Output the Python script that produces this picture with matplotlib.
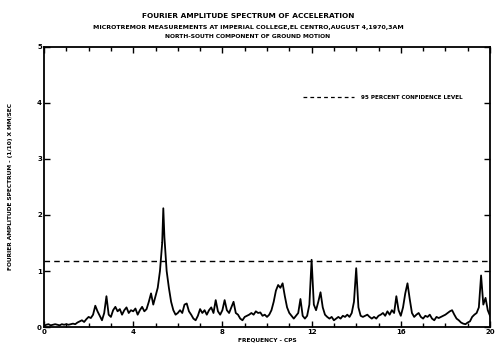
import numpy as np
import matplotlib
matplotlib.use("Agg")
import matplotlib.pyplot as plt
from matplotlib.ticker import MultipleLocator

# Fourier amplitude values (0.1 cps grid, extra points at the main peak)
freq_main = [5.30, 5.35, 5.40]
amp_main = [1.50, 2.12, 1.60]

amp_grid = [
    0.02, 0.04, 0.05, 0.03, 0.04, 0.05, 0.04, 0.03, 0.05, 0.04, 0.05,   # 0.0-1.0
    0.04, 0.05, 0.06, 0.05, 0.08, 0.10, 0.12, 0.09, 0.14, 0.18,         # 1.1-2.0
    0.16, 0.22, 0.38, 0.28, 0.20, 0.12, 0.25, 0.55, 0.22, 0.18,         # 2.1-3.0
    0.30, 0.36, 0.28, 0.32, 0.22, 0.30, 0.35, 0.25, 0.30, 0.28,         # 3.1-4.0
    0.33, 0.22, 0.30, 0.36, 0.28, 0.32, 0.45, 0.60, 0.40, 0.55,         # 4.1-5.0
    0.70, 1.00, 1.50, 1.60, 1.00, 0.70, 0.45, 0.30, 0.22, 0.25,         # 5.1-6.0
    0.30, 0.25, 0.40, 0.42, 0.28, 0.22, 0.15, 0.12, 0.20, 0.32,         # 6.1-7.0
    0.25, 0.30, 0.22, 0.30, 0.35, 0.25, 0.48, 0.28, 0.22, 0.30,         # 7.1-8.0
    0.48, 0.30, 0.25, 0.35, 0.45, 0.25, 0.22, 0.15, 0.12, 0.18,         # 8.1-9.0
    0.20, 0.22, 0.25, 0.22, 0.28, 0.25, 0.26, 0.20, 0.22, 0.18,         # 9.1-10.0
    0.22, 0.30, 0.45, 0.65, 0.75, 0.70, 0.78, 0.55, 0.35, 0.25,         # 10.1-11.0
    0.20, 0.15, 0.20, 0.25, 0.50, 0.20, 0.15, 0.20, 0.40, 1.20,         # 11.1-12.0
    0.40, 0.30, 0.45, 0.62, 0.35, 0.22, 0.18, 0.15, 0.18, 0.12,         # 12.1-13.0
    0.15, 0.18, 0.15, 0.20, 0.18, 0.22, 0.18, 0.25, 0.45, 1.05,         # 13.1-14.0
    0.35, 0.20, 0.18, 0.20, 0.22, 0.18, 0.15, 0.18, 0.15, 0.20,         # 14.1-15.0
    0.22, 0.25, 0.20, 0.28, 0.22, 0.30, 0.25, 0.55, 0.30, 0.20,         # 15.1-16.0
    0.35, 0.60, 0.78, 0.50, 0.25, 0.18, 0.22, 0.25, 0.18, 0.15,         # 16.1-17.0
    0.20, 0.18, 0.22, 0.15, 0.12, 0.18, 0.16, 0.18, 0.20, 0.22,         # 17.1-18.0
    0.25, 0.28, 0.30, 0.22, 0.15, 0.12, 0.08, 0.06, 0.05, 0.08,         # 18.1-19.0
    0.10, 0.18, 0.22, 0.25, 0.35, 0.92, 0.40, 0.52, 0.30, 0.20,         # 19.1-20.0
]
confidence_level = 1.17
x_ticks = [0, 4, 8, 12, 16, 20]
y_ticks = [0, 1, 2, 3, 4, 5]

title1 = "FOURIER AMPLITUDE SPECTRUM OF ACCELERATION"
title2 = "MICROTREMOR MEASUREMENTS AT IMPERIAL COLLEGE,EL CENTRO,AUGUST 4,1970,3AM"
title3 = "NORTH-SOUTH COMPONENT OF GROUND MOTION"
xlabel = "FREQUENCY - CPS"
ylabel = "FOURIER AMPLITUDE SPECTRUM - (1/10) X MM/SEC"
legend_label = "95 PERCENT CONFIDENCE LEVEL"

freq_grid = np.linspace(0, 20, len(amp_grid))
freq = np.concatenate([freq_grid, freq_main])
amp = np.concatenate([amp_grid, amp_main])
order = np.argsort(freq, kind="stable")
freq = freq[order]
amp = amp[order]

plt.rcParams['font.family'] = ['DejaVu Sans']
plt.rcParams['font.weight'] = 'bold'

fig = plt.figure(figsize=(4.96, 3.45), dpi=100)
ax = fig.add_axes([44/496, 1-327/345, (490-44)/496, (327-47)/345])

ax.plot(freq, amp, color="black", lw=1.3)
ax.axhline(confidence_level, color="black", lw=1.0, ls=(0, (4, 3)))
ax.plot([11.6, 13.9], [4.1, 4.1], color="black", lw=0.9, ls=(0, (3, 2.5)))
ax.text(14.2, 4.1, legend_label, fontsize=4.1, fontweight="bold", va="center", ha="left")

ax.set_xlim(0, 20)
ax.set_ylim(0, 5)
ax.set_xticks(x_ticks)
ax.set_yticks(y_ticks)
ax.xaxis.set_minor_locator(MultipleLocator(1))
ax.tick_params(which="both", direction="in", top=True, right=True, width=1.0)
ax.tick_params(which="major", length=4, labelsize=5, pad=1.5)
ax.tick_params(which="minor", length=3)
for lab in ax.get_xticklabels() + ax.get_yticklabels():
    lab.set_fontweight("bold")
for sp in ax.spines.values():
    sp.set_linewidth(1.3)

ax.set_xlabel(xlabel, fontsize=4.2, fontweight="bold", labelpad=2)
ax.set_ylabel(ylabel, fontsize=4.2, fontweight="bold", labelpad=17)

fig.text(0.5, 1-16/345, title1, ha="center", va="center", fontsize=5.3, fontweight="bold")
fig.text(0.5, 1-27/345, title2, ha="center", va="center", fontsize=4.5, fontweight="bold")
fig.text(0.5, 1-37/345, title3, ha="center", va="center", fontsize=4.3, fontweight="bold")

fig.savefig("out.png", dpi=100)
